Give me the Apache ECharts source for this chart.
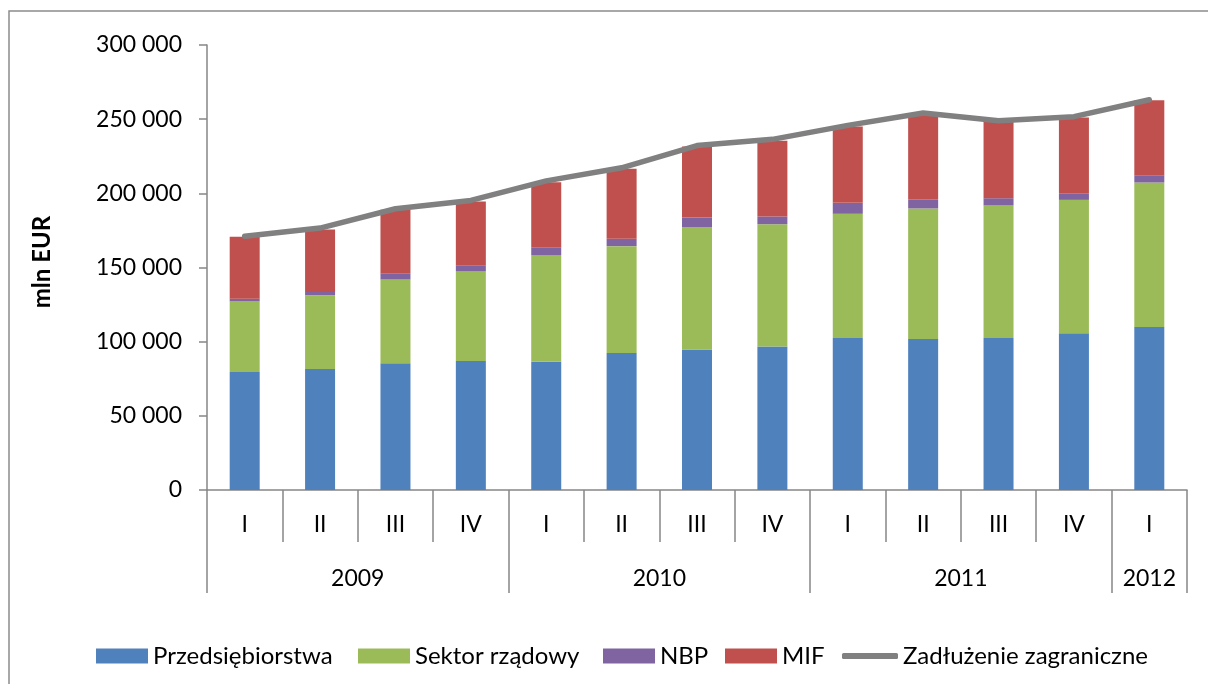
<!DOCTYPE html>
<html>
<head>
<meta charset="utf-8">
<script src="https://cdn.jsdelivr.net/npm/echarts@6/dist/echarts.min.js"></script>
<style>
  html, body { margin: 0; padding: 0; background: #fff; }
  #chart { width: 1208px; height: 684px; }
</style>
</head>
<body>
<div id="chart"></div>
<script>
// quarters on the lower axis, years grouped beneath
const quarters = ["I", "II", "III", "IV", "I", "II", "III", "IV", "I", "II", "III", "IV", "I"];
const years = ["2009", "2010", "2011", "2012"];
const yearSizes = [4, 4, 4, 1];

// mln EUR
const przedsiebiorstwa = [79600, 81600, 85500, 87000, 86400, 92400, 94700, 96700, 102500, 101800, 102500, 105700, 109900];
const sektorRzadowy = [47600, 49600, 56500, 60600, 72000, 72000, 82300, 82500, 83700, 88000, 89300, 89900, 97400];
const nbp = [1800, 2300, 3800, 3600, 4900, 5000, 6700, 5200, 7400, 5800, 4900, 4100, 4900];
const mif = [41700, 42200, 43100, 43300, 44200, 47100, 47800, 51100, 51400, 57600, 51900, 51500, 50500];
const zadluzenie = [171000, 176600, 189600, 195200, 208400, 217200, 232200, 236400, 245800, 254200, 249000, 251700, 263100];

const yTicks = [0, 50000, 100000, 150000, 200000, 250000, 300000];

// year group boundaries and centres in quarter units
const yearEdges = [0];
const yearCenters = [];
yearSizes.forEach((n, i) => {
  const start = yearEdges[i];
  yearEdges.push(start + n);
  yearCenters.push(start + n / 2);
});

const axisGray = "#868686";
const font = "Lato";

function spaced(v) {
  return String(v).replace(/\B(?=(\d{3})+(?!\d))/g, " ");
}

const grid = { left: 207, right: 21, top: 45, bottom: 194 };

// one legend per entry so every swatch sits where the original has it
const legendLefts = [91, 353, 598, 720, 837];
function legendFor(name, i, isLine) {
  return {
    data: [name],
    left: legendLefts[i],
    top: 639,
    icon: isLine ? "roundRect" : "rect",
    itemWidth: isLine ? 56 : 52,
    itemHeight: isLine ? 6 : 15,
    textStyle: { fontFamily: font, fontSize: 24, color: "#000", padding: [0, 0, 0, 0] }
  };
}

const chart = echarts.init(document.getElementById("chart"), null, { renderer: "canvas" });

const barBase = { type: "bar", stack: "total", barWidth: 30, xAxisIndex: 0, yAxisIndex: 0 };

chart.setOption({
  animation: false,
  backgroundColor: "#fff",
  textStyle: { fontFamily: font },
  grid: [grid, grid],
  legend: [
    legendFor("Przedsiębiorstwa", 0),
    legendFor("Sektor rządowy", 1),
    legendFor("NBP", 2),
    legendFor("MIF", 3),
    legendFor("Zadłużenie zagraniczne", 4, true)
  ],
  xAxis: [
    {
      type: "category",
      gridIndex: 0,
      data: quarters,
      axisLine: { lineStyle: { color: axisGray, width: 1.5 } },
      axisTick: { show: true, interval: 0, length: 52, lineStyle: { color: axisGray, width: 1.5 } },
      axisLabel: { interval: 0, margin: 23, color: "#000", fontSize: 23, fontFamily: font },
      splitLine: { show: false }
    },
    {
      type: "value",
      gridIndex: 1,
      min: 0,
      max: quarters.length,
      axisLine: { show: false },
      axisTick: { show: true, customValues: yearEdges, length: 103, lineStyle: { color: axisGray, width: 1.5 } },
      axisLabel: {
        customValues: yearCenters,
        margin: 77,
        color: "#000",
        fontSize: 23,
        fontFamily: font,
        formatter: (v) => {
          const i = yearCenters.indexOf(v);
          return i >= 0 ? years[i] : "";
        }
      },
      splitLine: { show: false }
    }
  ],
  yAxis: [
    {
      type: "value",
      gridIndex: 0,
      min: yTicks[0],
      max: yTicks[yTicks.length - 1],
      interval: yTicks[1] - yTicks[0],
      axisLine: { show: true, lineStyle: { color: axisGray, width: 1.5 } },
      axisTick: { show: true, length: 8, lineStyle: { color: axisGray, width: 1.5 } },
      axisLabel: { margin: 25, color: "#000", fontSize: 23, fontFamily: font, formatter: spaced },
      splitLine: { show: false }
    },
    {
      type: "value",
      gridIndex: 1,
      show: false,
      min: 0,
      max: 1
    }
  ],
  graphic: [
    {
      type: "rect",
      shape: { x: 9, y: 11, width: 1260, height: 720 },
      style: { fill: "none", stroke: "#8c8c8c", lineWidth: 1.5 },
      silent: true
    },
    {
      type: "text",
      x: 42,
      y: 262,
      rotation: Math.PI / 2,
      style: {
        text: "mln EUR",
        fontFamily: font,
        fontWeight: "bold",
        fontSize: 24,
        fill: "#000",
        align: "center",
        verticalAlign: "middle"
      }
    }
  ],
  series: [
    { ...barBase, name: "Przedsiębiorstwa", data: przedsiebiorstwa, itemStyle: { color: "#4F81BD" } },
    { ...barBase, name: "Sektor rządowy", data: sektorRzadowy, itemStyle: { color: "#9BBB59" } },
    { ...barBase, name: "NBP", data: nbp, itemStyle: { color: "#8064A2" } },
    { ...barBase, name: "MIF", data: mif, itemStyle: { color: "#C0504D" } },
    {
      name: "Zadłużenie zagraniczne",
      type: "line",
      xAxisIndex: 0,
      yAxisIndex: 0,
      data: zadluzenie,
      symbol: "none",
      smooth: false,
      z: 5,
      itemStyle: { color: "#808080" },
      lineStyle: { color: "#808080", width: 5.5, cap: "round", join: "round" }
    }
  ]
});
</script>
</body>
</html>
